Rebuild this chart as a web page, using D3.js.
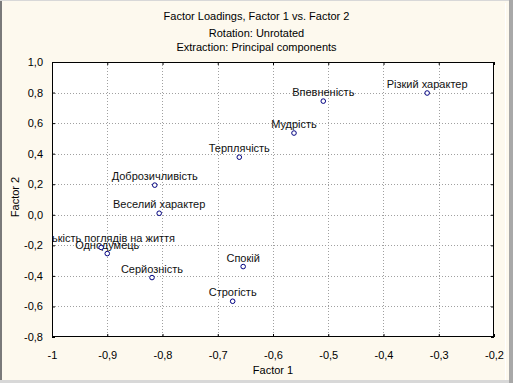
<!DOCTYPE html>
<html>
<head>
<meta charset="utf-8">
<script src="https://cdn.jsdelivr.net/npm/d3@7/dist/d3.min.js"></script>
<style>
html,body{margin:0;padding:0;background:#fdf9ee;}
svg{display:block;}
text{font-family:"Liberation Sans",Arial,sans-serif;}
</style>
</head>
<body>
<svg id="chart" width="513" height="383"></svg>
<script>
const labels = ["Різкий характер","Впевненість","Мудрість","Терплячість","Доброзичливість","Веселий характер","Близькість поглядів на життя","Однодумець","Серйозність","Спокій","Строгість"];
const factor1 = [-0.321,-0.509,-0.562,-0.661,-0.814,-0.806,-0.911,-0.900,-0.819,-0.654,-0.673];
const factor2 = [0.797,0.744,0.535,0.377,0.194,0.010,-0.214,-0.254,-0.411,-0.339,-0.566];
const xTicks = [-1,-0.9,-0.8,-0.7,-0.6,-0.5,-0.4,-0.3,-0.2];
const xTickLabels = ["-1","-0,9","-0,8","-0,7","-0,6","-0,5","-0,4","-0,3","-0,2"];
const yTicks = [1.0,0.8,0.6,0.4,0.2,0.0,-0.2,-0.4,-0.6,-0.8];
const yTickLabels = ["1,0","0,8","0,6","0,4","0,2","0,0","-0,2","-0,4","-0,6","-0,8"];
const titles = ["Factor Loadings, Factor 1 vs. Factor 2","Rotation: Unrotated","Extraction: Principal components"];

const svg = d3.select("#chart");
const W = 513, H = 383;
const L = 52, R = 494, T = 62, B = 337;

// window frame
svg.append("rect").attr("x",0).attr("y",0).attr("width",W).attr("height",H).attr("fill","#fdf9ee");
svg.append("rect").attr("x",0).attr("y",0).attr("width",2).attr("height",H).attr("fill","#7a7a7a");
svg.append("rect").attr("x",509).attr("y",0).attr("width",4).attr("height",H).attr("fill","#a8a8a8");
svg.append("rect").attr("x",505).attr("y",3).attr("width",1).attr("height",377).attr("fill","#ffffff");
svg.append("rect").attr("x",0).attr("y",380).attr("width",509).attr("height",3).attr("fill","#d8d8d8");
svg.append("rect").attr("x",0).attr("y",0).attr("width",509).attr("height",1).attr("fill","#d8d8d8");

const x = d3.scaleLinear().domain([-1,-0.2]).range([L,R]);
const y = d3.scaleLinear().domain([-0.8,1.0]).range([B,T]);

// plot bg
svg.append("rect").attr("x",L).attr("y",T).attr("width",R-L).attr("height",B-T).attr("fill","#ffffff");

// grid
const grid = svg.append("g").attr("stroke","#a0a0a0").attr("stroke-dasharray","1,2").attr("stroke-width",1);
xTicks.slice(1,-1).forEach(v=>{
  grid.append("line").attr("x1",Math.round(x(v))+0.5).attr("x2",Math.round(x(v))+0.5).attr("y1",T).attr("y2",B);
});
yTicks.slice(1,-1).forEach(v=>{
  grid.append("line").attr("y1",Math.round(y(v))+0.5).attr("y2",Math.round(y(v))+0.5).attr("x1",L).attr("x2",R);
});

// axes (ticks inward)
const fmtX = d => xTickLabels[xTicks.findIndex(t=>Math.abs(t-d)<1e-9)];
const fmtY = d => yTickLabels[yTicks.findIndex(t=>Math.abs(t-d)<1e-9)];
const styleAxis = g => { g.select(".domain").remove(); g.selectAll("line").attr("stroke","#000"); g.selectAll("text").attr("fill","#000").style("font-size","11px").style("font-family","'Liberation Sans',Arial,sans-serif"); };

svg.append("g").attr("transform",`translate(0,${B})`)
  .call(d3.axisBottom(x).tickValues(xTicks).tickFormat(fmtX).tickSizeInner(-3).tickSizeOuter(0).tickPadding(14))
  .call(styleAxis);
svg.append("g").attr("transform",`translate(0,${T})`)
  .call(d3.axisTop(x).tickValues(xTicks).tickFormat("").tickSizeInner(-3).tickSizeOuter(0))
  .call(styleAxis);
svg.append("g").attr("transform",`translate(${L},0)`)
  .call(d3.axisLeft(y).tickValues(yTicks).tickFormat(fmtY).tickSizeInner(-3).tickSizeOuter(0).tickPadding(9))
  .call(styleAxis);
svg.append("g").attr("transform",`translate(${R},0)`)
  .call(d3.axisRight(y).tickValues(yTicks).tickFormat("").tickSizeInner(-3).tickSizeOuter(0))
  .call(styleAxis);

// frame
svg.append("rect").attr("x",L+0.5).attr("y",T+0.5).attr("width",R-L-1).attr("height",B-T-1)
  .attr("fill","none").attr("stroke","#000").attr("stroke-width",1);

// clip
svg.append("clipPath").attr("id","plotclip").append("rect").attr("x",L+1).attr("y",T).attr("width",R-L-1).attr("height",B-T);

const pts = labels.map((l,i)=>({l, a:factor1[i], b:factor2[i]}));
const pg = svg.append("g").attr("clip-path","url(#plotclip)");
pg.selectAll("text.lbl").data(pts).join("text").attr("class","lbl")
  .attr("x",d=>x(d.a)).attr("y",d=>y(d.b)-5)
  .attr("text-anchor","middle").style("font-size","11px").attr("fill","#111")
  .text(d=>d.l);
pg.selectAll("circle").data(pts).join("circle")
  .attr("cx",d=>x(d.a)).attr("cy",d=>y(d.b)).attr("r",2.3)
  .attr("fill","#fff").attr("stroke","#000080").attr("stroke-width",1);

// titles
titles.forEach((t,i)=>{
  svg.append("text").attr("x",256.5).attr("y",[20,37,50.5][i]).attr("text-anchor","middle")
    .style("font-size","11px").attr("fill","#000").text(t);
});
svg.append("text").attr("x",273).attr("y",374).attr("text-anchor","middle").style("font-size","11px").text("Factor 1");
svg.append("text").attr("transform","translate(19,197) rotate(-90)").attr("text-anchor","middle").style("font-size","11px").text("Factor 2");
</script>
</body>
</html>
